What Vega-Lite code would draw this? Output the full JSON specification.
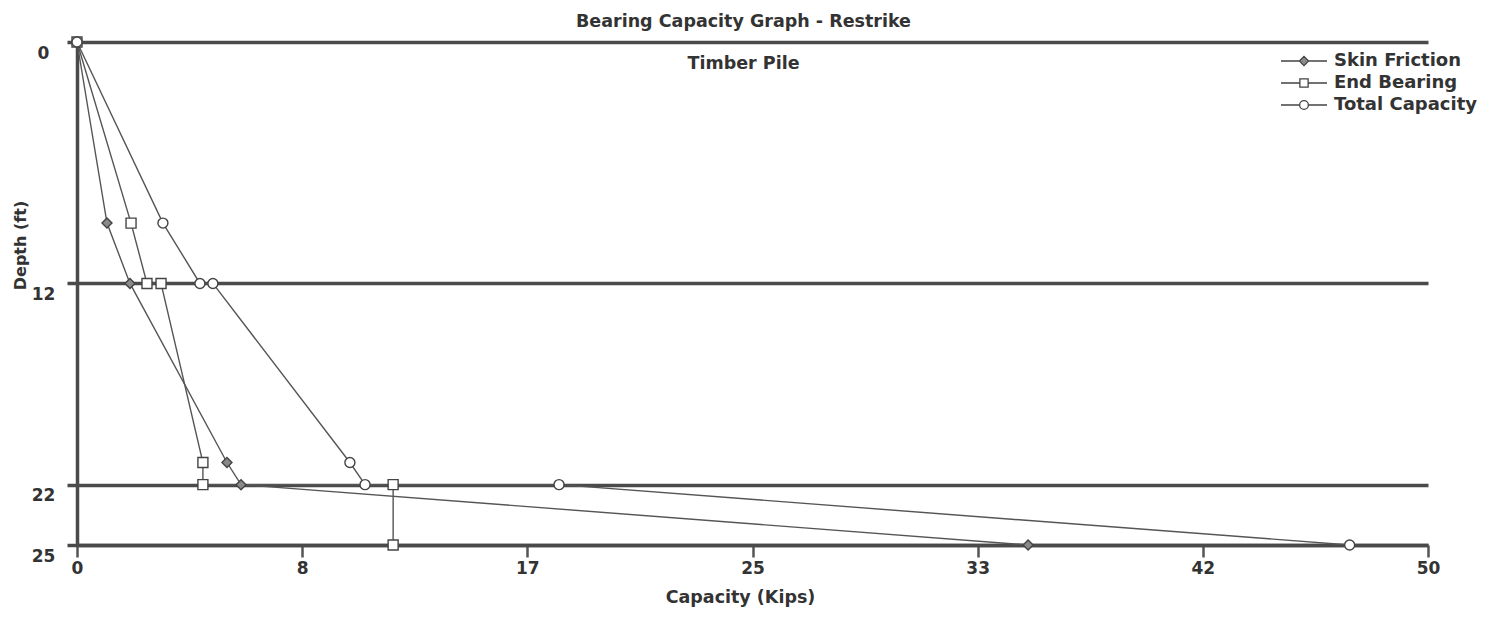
{
  "$schema": "https://vega.github.io/schema/vega-lite/v6.json",
  "width": 1351,
  "height": 503,
  "autosize": {"type": "none"},
  "padding": {"left": 77, "top": 42, "right": 58, "bottom": 79},
  "background": "white",
  "config": {"view": {"stroke": null}, "font": "DejaVu Sans"},
  "title": {
    "text": "Bearing Capacity Graph - Restrike",
    "subtitle": "Timber Pile",
    "anchor": "middle",
    "frame": "group",
    "orient": "top",
    "font": "DejaVu Sans",
    "fontSize": 17.5,
    "fontWeight": "bold",
    "color": "#333",
    "subtitleFont": "DejaVu Sans",
    "subtitleFontSize": 17.5,
    "subtitleFontWeight": "bold",
    "subtitleColor": "#333",
    "subtitlePadding": 24,
    "offset": -38,
    "dx": -9
  },
  "data": {
    "values": [
      {"series": "Skin Friction", "i": 0, "cap": 0, "depth": 0},
      {"series": "Skin Friction", "i": 1, "cap": 1.11, "depth": 9},
      {"series": "Skin Friction", "i": 2, "cap": 1.96, "depth": 12},
      {"series": "Skin Friction", "i": 3, "cap": 5.55, "depth": 20.9},
      {"series": "Skin Friction", "i": 4, "cap": 6.07, "depth": 22},
      {"series": "Skin Friction", "i": 5, "cap": 35.2, "depth": 25},
      {"series": "End Bearing", "i": 0, "cap": 0, "depth": 0},
      {"series": "End Bearing", "i": 1, "cap": 2.0, "depth": 9},
      {"series": "End Bearing", "i": 2, "cap": 2.59, "depth": 12},
      {"series": "End Bearing", "i": 3, "cap": 3.11, "depth": 12},
      {"series": "End Bearing", "i": 4, "cap": 4.66, "depth": 20.9},
      {"series": "End Bearing", "i": 5, "cap": 4.66, "depth": 22},
      {"series": "End Bearing", "i": 6, "cap": 11.7, "depth": 22},
      {"series": "End Bearing", "i": 7, "cap": 11.7, "depth": 25},
      {"series": "Total Capacity", "i": 0, "cap": 0, "depth": 0},
      {"series": "Total Capacity", "i": 1, "cap": 3.18, "depth": 9},
      {"series": "Total Capacity", "i": 2, "cap": 4.55, "depth": 12},
      {"series": "Total Capacity", "i": 3, "cap": 5.03, "depth": 12},
      {"series": "Total Capacity", "i": 4, "cap": 10.1, "depth": 20.9},
      {"series": "Total Capacity", "i": 5, "cap": 10.66, "depth": 22},
      {"series": "Total Capacity", "i": 6, "cap": 17.84, "depth": 22},
      {"series": "Total Capacity", "i": 7, "cap": 47.1, "depth": 25}
    ]
  },
  "encoding": {
    "x": {
      "field": "cap",
      "type": "quantitative",
      "scale": {"domain": [0, 50], "nice": false, "zero": false},
      "axis": {
        "values": [0, 8.3333, 16.6667, 25, 33.3333, 41.6667, 50],
        "labelExpr": "format(datum.value, '.0f')",
        "grid": false,
        "tickSize": 12,
        "tickWidth": 2.5,
        "tickColor": "#555",
        "domainColor": "#4a4a4a",
        "domainWidth": 3.5,
        "labelFont": "DejaVu Sans",
        "labelFontSize": 17,
        "labelFontWeight": "bold",
        "labelColor": "#333",
        "labelPadding": 3,
        "labelFlush": false,
        "labelOverlap": false,
        "title": "Capacity (Kips)",
        "titleFont": "DejaVu Sans",
        "titleFontSize": 17.5,
        "titleFontWeight": "bold",
        "titleColor": "#333",
        "titleX": 663,
        "titleY": 52,
        "titleAlign": "center",
        "titleBaseline": "middle"
      }
    },
    "y": {
      "field": "depth",
      "type": "quantitative",
      "scale": {"domain": [0, 25], "reverse": true, "nice": false, "zero": false},
      "axis": {
        "values": [0, 12, 22, 25],
        "grid": true,
        "gridColor": "#4a4a4a",
        "gridWidth": 3.5,
        "gridOpacity": 1,
        "tickSize": 10,
        "tickWidth": 3.5,
        "tickColor": "#4a4a4a",
        "domainColor": "#4a4a4a",
        "domainWidth": 3.5,
        "labelFont": "DejaVu Sans",
        "labelFontSize": 17,
        "labelFontWeight": "bold",
        "labelColor": "#333",
        "labelAlign": "center",
        "labelBaseline": "middle",
        "labelOffset": 11,
        "labelPadding": 24,
        "labelOverlap": false,
        "title": "Depth (ft)",
        "titleFont": "DejaVu Sans",
        "titleFontSize": 16,
        "titleFontWeight": "bold",
        "titleColor": "#333",
        "titleX": -57,
        "titleY": 203,
        "titleAngle": -90,
        "titleAlign": "center",
        "titleBaseline": "middle"
      }
    }
  },
  "layer": [
    {
      "mark": {"type": "line", "stroke": "#555", "strokeWidth": 1.4},
      "encoding": {
        "detail": {"field": "series", "type": "nominal"},
        "order": {"field": "i", "type": "quantitative"}
      }
    },
    {
      "mark": {"type": "point", "stroke": "#444", "strokeWidth": 1.4, "opacity": 1, "fillOpacity": 1, "size": 100},
      "encoding": {
        "fill": {
          "field": "series",
          "type": "nominal",
          "scale": {"domain": ["Skin Friction", "End Bearing", "Total Capacity"], "range": ["#8a8a8a", "white", "white"]},
          "legend": null
        },
        "shape": {
          "field": "series",
          "type": "nominal",
          "scale": {"domain": ["Skin Friction", "End Bearing", "Total Capacity"], "range": ["diamond", "square", "circle"]},
          "legend": null
        }
      }
    },
    {
      "transform": [{"filter": "false"}],
      "mark": {"type": "point", "stroke": "#444", "strokeWidth": 1.3, "opacity": 1, "fillOpacity": 1},
      "encoding": {
        "fill": {
          "field": "series",
          "type": "nominal",
          "scale": {"domain": ["Skin Friction", "End Bearing", "Total Capacity"], "range": ["#8a8a8a", "white", "white"]},
          "legend": {
            "orient": "none", "legendX": 1214.5, "legendY": 6.5, "title": null,
            "labelFont": "DejaVu Sans", "labelFontSize": 18, "labelFontWeight": "bold", "labelColor": "#333",
            "symbolSize": 529, "symbolStrokeColor": "#444", "symbolStrokeWidth": 1.3, "symbolOpacity": 1,
            "labelOffset": 17.5, "rowPadding": 0, "padding": 0,
            "encode": {"symbols": {"update": {"stroke": {"value": "#444"}, "strokeWidth": {"value": 1.3}, "strokeOpacity": {"value": 1}, "opacity": {"value": 1}}}}
          }
        },
        "shape": {
          "field": "series",
          "type": "nominal",
          "scale": {
            "domain": ["Skin Friction", "End Bearing", "Total Capacity"],
            "range": [
              "M-2,0H-0.4M0.4,0H2M0,-0.4L0.4,0L0,0.4L-0.4,0Z",
              "M-2,0H-0.36M0.36,0H2M-0.36,-0.36H0.36V0.36H-0.36Z",
              "M-2,0H-0.38M0.38,0H2M-0.38,0A0.38,0.38 0 1,0 0.38,0A0.38,0.38 0 1,0 -0.38,0Z"
            ]
          },
          "legend": {
            "orient": "none", "legendX": 1214.5, "legendY": 6.5, "title": null,
            "labelFont": "DejaVu Sans", "labelFontSize": 18, "labelFontWeight": "bold", "labelColor": "#333",
            "symbolSize": 529, "symbolStrokeColor": "#444", "symbolStrokeWidth": 1.3, "symbolOpacity": 1,
            "labelOffset": 17.5, "rowPadding": 0, "padding": 0,
            "encode": {"symbols": {"update": {"stroke": {"value": "#444"}, "strokeWidth": {"value": 1.3}, "strokeOpacity": {"value": 1}, "opacity": {"value": 1}}}}
          }
        }
      }
    }
  ],
  "resolve": {
    "scale": {"shape": "independent", "fill": "independent"},
    "legend": {"shape": "independent", "fill": "independent"}
  }
}
